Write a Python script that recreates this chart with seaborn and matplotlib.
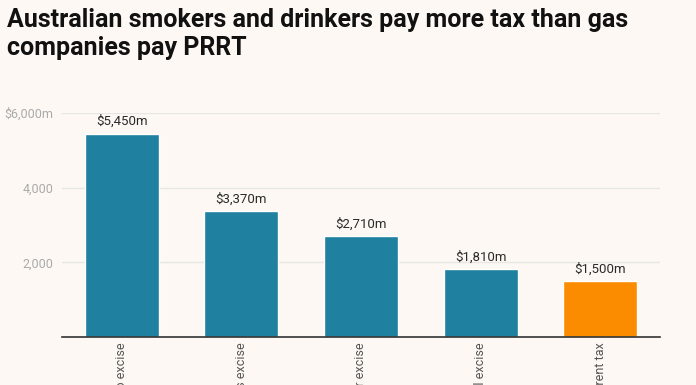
import matplotlib.pyplot as plt
import seaborn as sns
import pandas as pd

categories = ["Tobacco excise", "Spirits excise", "Beer excise",
              "Other alcohol excise", "Petroleum resource rent tax"]
values = [5450, 3370, 2710, 1810, 1500]
value_labels = ["$5,450m", "$3,370m", "$2,710m", "$1,810m", "$1,500m"]
y_ticks = [2000, 4000, 6000]
y_tick_labels = ["2,000", "4,000", "$6,000m"]

bg = "#fdf8f3"
colors = ["#1f80a0"] * 4 + ["#fb8c00"]

sns.set_style("white", {"axes.facecolor": bg, "figure.facecolor": bg})
plt.rcParams['font.family'] = ['Roboto', 'DejaVu Sans']

df = pd.DataFrame({"category": categories, "value": values})

fig = plt.figure(figsize=(6.96, 3.85), dpi=100)
ax = fig.add_axes([62 / 696, 1 - 337 / 385, 598 / 696, 224 / 385])

sns.barplot(data=df, x="category", y="value", hue="category",
            palette=colors, width=0.62, saturation=1, legend=False, ax=ax)

for container, lab in zip(ax.containers, value_labels):
    ax.bar_label(container, labels=[lab], padding=4, fontsize=9.5, color="#2a2a2a")

ax.set_xlim(-0.5, 4.5)
ax.set_ylim(0, 6000)
ax.set_yticks(y_ticks)
ax.set_yticklabels(y_tick_labels)
ax.yaxis.grid(True, color="#e8e6e2", linewidth=1)
ax.set_axisbelow(True)
ax.tick_params(axis="y", length=0, pad=6, labelsize=9, labelcolor="#aaaaaa")
ax.tick_params(axis="x", length=0, pad=4, labelsize=9, labelcolor="#555555")
plt.setp(ax.get_xticklabels(), rotation=90, va="top", ha="center")
ax.set(xlabel=None, ylabel=None)

for s in ["top", "right", "left"]:
    ax.spines[s].set_visible(False)
ax.spines["bottom"].set_color("#333333")
ax.spines["bottom"].set_linewidth(1.2)

fig.text(7 / 696, 1 - 8 / 385,
         "Australian smokers and drinkers pay more tax than gas\ncompanies pay PRRT",
         ha="left", va="top", fontsize=18, fontweight="bold", color="#111111",
         linespacing=1.2)

fig.savefig("out.png", dpi=100, facecolor=bg)
plt.close(fig)
